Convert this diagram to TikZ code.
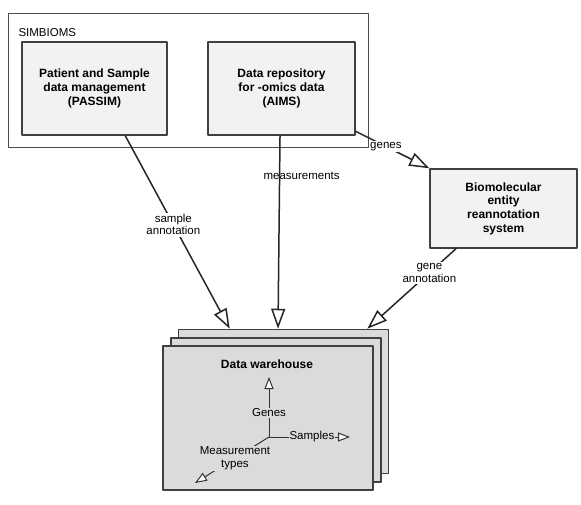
\documentclass[tikz,border=0pt]{standalone}
\usepackage{fontspec}
\setmainfont{Liberation Sans}
\usetikzlibrary{arrows.meta,calc}
\definecolor{boxgray}{gray}{0.95}
\definecolor{dwgray}{gray}{0.86}
\definecolor{edgegray}{gray}{0.25}
\begin{document}
\begin{tikzpicture}[line cap=round,line join=round,x=1pt,y=-1pt,
		font=\fontsize{11.5}{12.5}\selectfont,
		sysbox/.style={draw=edgegray,line width=1.5pt,fill=boxgray,inner sep=0pt,align=center,font=\fontsize{12}{13.7}\selectfont\bfseries},
		sheet/.style={draw=edgegray,line width=1.5pt,fill=dwgray,inner sep=0pt,minimum width=210pt,minimum height=144pt},
		flow/.style={draw=black!85,line width=1.5pt,-{Triangle[fill=white,length=20pt,width=14pt]}},
		flowlbl/.style={fill=white,inner sep=1.5pt,align=center},
		axis/.style={draw=black!80,line width=1pt,-{Triangle[fill=white,length=12pt,width=9pt]}},
		axislbl/.style={fill=dwgray,inner sep=1pt,align=center}]
				\useasboundingbox (0,0) rectangle (581,505);
				\node[draw=black!70,line width=1pt,minimum width=360pt,minimum height=134pt] (simbioms) at (188,81) {};
				\node[anchor=west] (simbiomslbl) at (15,33) {SIMBIOMS};
				\node[sysbox,minimum width=145pt,minimum height=93pt] (passim) at (94.5,88.5) {Patient and Sample\\data management\\(PASSIM)};
				\node[sysbox,minimum width=147pt,minimum height=93pt] (aims) at (281.5,88.5) {Data repository\\for -omics data\\(AIMS)};
				\node[sysbox,minimum width=147pt,minimum height=79pt] (bio) at (503.5,208.5) {Biomolecular\\entity\\reannotation\\system};
				\node[sheet] (dwback) at (283.5,401.5) {};
				\node[sheet] (dwmid) at (276,410) {};
				\node[sheet] (dwfront) at (268,418) {};
				\node[font=\fontsize{12}{13}\selectfont\bfseries] (dwlbl) at (267,364) {Data warehouse};
				\coordinate (origin) at (269,437);
				\coordinate (genestip) at (269,377);
				\coordinate (samplestip) at (350,437);
				\coordinate (mtypestip) at (195,483);
				\draw[axis] (origin) -- node[axislbl,pos=.4] {Genes} (genestip);
				\draw[axis] (origin) -- node[axislbl,pos=.53] {Samples} (samplestip);
				\draw[axis] (origin) -- node[axislbl,pos=.46] {Measurement\\types} (mtypestip);
				\draw[flow] ($(passim.south west)!.71!(passim.south east)$) -- node[flowlbl,pos=.46] {sample\\annotation} ($(dwback.north west)!.246!(dwback.north east)$);
				\draw[flow] ($(aims.south west)!.49!(aims.south east)$) -- node[pos=.21,xshift=22pt] {measurements} ($(dwback.north west)!.474!(dwback.north east)$);
				\draw[flow] (aims.-30) -- node[flowlbl,pos=.41] {genes} (bio.north west);
				\draw[flow] ($(bio.south west)!.18!(bio.south east)$) -- node[flowlbl,pos=.3] {gene\\annotation} ($(dwback.north west)!.896!(dwback.north east)$);
\end{tikzpicture}
\end{document}
